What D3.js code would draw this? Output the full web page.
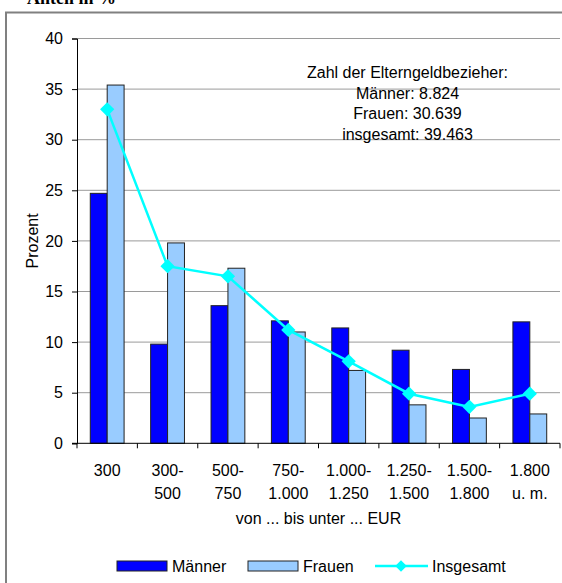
<!DOCTYPE html>
<html>
<head>
<meta charset="utf-8">
<script src="https://cdn.jsdelivr.net/npm/d3@7"></script>
<style>
    body { margin: 0; background: #fff; }
    svg { display: block; }
</style>
</head>
<body>
<svg id="chart" width="562" height="583"></svg>
<script>
const categories = ['300', '300-|500', '500-|750', '750-|1.000', '1.000-|1.250', '1.250-|1.500', '1.500-|1.800', '1.800|u. m.'];
const maenner = [24.7, 9.8, 13.6, 12.1, 11.4, 9.2, 7.3, 12.0];
const frauen = [35.4, 19.8, 17.3, 11.0, 7.2, 3.8, 2.5, 2.9];
const insgesamt = [33.0, 17.5, 16.5, 11.2, 8.1, 4.9, 3.6, 4.9];
const yTicks = [0, 5, 10, 15, 20, 25, 30, 35, 40];
const infoLines = ['Zahl der Elterngeldbezieher:', 'Männer: 8.824', 'Frauen: 30.639', 'insgesamt: 39.463'];

const font = "Arial, 'Liberation Sans', sans-serif";
const fontSize = '16px';
const plot = { left: 77, right: 560, top: 38.5, bottom: 443.3 };

const svg = d3.select('#chart');

// outer frame, cut off at right and bottom like the original
svg.append('rect')
    .attr('x', 6)
    .attr('y', 12.5)
    .attr('width', 600)
    .attr('height', 600)
    .attr('fill', '#fff')
    .attr('stroke', '#808080')
    .attr('stroke-width', 2);

svg.append('text')
    .attr('x', 27)
    .attr('y', 4)
    .style('font-family', "'Liberation Serif', 'Times New Roman', serif")
    .style('font-size', '18px')
    .style('font-weight', 'bold')
    .text('Anteil in %');

const xScale = d3.scaleBand()
    .domain(categories)
    .range([plot.left, plot.right])
    .paddingInner(0.44)
    .paddingOuter(0.22);

const yScale = d3.scaleLinear()
    .domain([0, 40])
    .range([plot.bottom, plot.top]);

// grid lines
svg.append('g')
    .selectAll('line')
    .data(yTicks.filter(d => d != 0))
    .join('line')
    .attr('x1', plot.left)
    .attr('x2', plot.right)
    .attr('y1', d => yScale(d))
    .attr('y2', d => yScale(d))
    .attr('stroke', '#9a9a9a')
    .attr('stroke-width', 1);

// bars
const bw = xScale.bandwidth() / 2;
const series = [
    { values: maenner, color: '#0000ff', offset: 0 },
    { values: frauen, color: '#99ccff', offset: 1 }
];
series.forEach(s => {
    svg.append('g')
        .selectAll('rect')
        .data(s.values)
        .join('rect')
        .attr('x', (d, i) => xScale(categories[i]) + s.offset * bw)
        .attr('y', d => yScale(d))
        .attr('width', bw)
        .attr('height', d => yScale(0) - yScale(d))
        .attr('fill', s.color)
        .attr('stroke', '#222')
        .attr('stroke-width', 1);
});

// line series
const cx = (d, i) => xScale(categories[i]) + xScale.bandwidth() / 2;
const line = d3.line()
    .x(cx)
    .y(d => yScale(d));

svg.append('path')
    .datum(insgesamt)
    .attr('d', line)
    .attr('fill', 'none')
    .attr('stroke', '#00ffff')
    .attr('stroke-width', 2.5);

const diamond = d3.symbol().type(d3.symbolDiamond2).size(130);
svg.append('g')
    .selectAll('path')
    .data(insgesamt)
    .join('path')
    .attr('d', diamond)
    .attr('transform', (d, i) => `translate(${cx(d, i)},${yScale(d)})`)
    .attr('fill', '#00ffff');

// y axis
const yAxis = svg.append('g')
    .attr('id', 'y-axis')
    .attr('transform', `translate(${plot.left},0)`)
    .call(d3.axisLeft(yScale).tickValues(yTicks).tickSize(5).tickPadding(9));
yAxis.select('.domain').attr('stroke', '#000');
yAxis.selectAll('text')
    .style('font-family', font)
    .style('font-size', fontSize)
    .attr('fill', '#000');

// x axis
const xEdges = d3.range(categories.length + 1).map(i => plot.left + i * (plot.right - plot.left) / categories.length);
svg.append('line')
    .attr('x1', plot.left - 5)
    .attr('x2', plot.right)
    .attr('y1', plot.bottom)
    .attr('y2', plot.bottom)
    .attr('stroke', '#000');
svg.append('g')
    .selectAll('line')
    .data(xEdges)
    .join('line')
    .attr('x1', d => d)
    .attr('x2', d => d)
    .attr('y1', plot.bottom)
    .attr('y2', plot.bottom + 5)
    .attr('stroke', '#000');

const xLabels = svg.append('g')
    .selectAll('text')
    .data(categories)
    .join('text')
    .attr('text-anchor', 'middle')
    .style('font-family', font)
    .style('font-size', fontSize)
    .attr('fill', '#000');
xLabels.selectAll('tspan')
    .data(d => d.split('|').map(t => ({ t: t, c: d })))
    .join('tspan')
    .attr('x', d => xScale(d.c) + xScale.bandwidth() / 2)
    .attr('y', (d, i) => 476 + i * 23)
    .text(d => d.t);

svg.append('text')
    .attr('x', (plot.left + plot.right) / 2)
    .attr('y', 523.5)
    .attr('text-anchor', 'middle')
    .style('font-family', font)
    .style('font-size', fontSize)
    .text('von ... bis unter ... EUR');

svg.append('text')
    .attr('transform', `translate(38,${(plot.top + plot.bottom) / 2}) rotate(-90)`)
    .attr('text-anchor', 'middle')
    .style('font-family', font)
    .style('font-size', fontSize)
    .text('Prozent');

// info text
svg.append('g')
    .selectAll('text')
    .data(infoLines)
    .join('text')
    .attr('x', 407.5)
    .attr('y', (d, i) => 78 + i * 20.7)
    .attr('text-anchor', 'middle')
    .style('font-family', font)
    .style('font-size', fontSize)
    .text(d => d);

// legend
const legend = svg.append('g');
const legendItems = [
    { label: 'Männer', color: '#0000ff', x: 117 },
    { label: 'Frauen', color: '#99ccff', x: 248 }
];
legendItems.forEach(l => {
    legend.append('rect')
        .attr('x', l.x)
        .attr('y', 561)
        .attr('width', 50)
        .attr('height', 10)
        .attr('fill', l.color)
        .attr('stroke', '#222');
    legend.append('text')
        .attr('x', l.x + 55)
        .attr('y', 572)
        .style('font-family', font)
        .style('font-size', fontSize)
        .text(l.label);
});
legend.append('line')
    .attr('x1', 375)
    .attr('x2', 428)
    .attr('y1', 566)
    .attr('y2', 566)
    .attr('stroke', '#00ffff')
    .attr('stroke-width', 2.5);
legend.append('path')
    .attr('d', d3.symbol().type(d3.symbolDiamond2).size(85))
    .attr('transform', 'translate(401,566)')
    .attr('fill', '#00ffff');
legend.append('text')
    .attr('x', 432)
    .attr('y', 572)
    .style('font-family', font)
    .style('font-size', fontSize)
    .text('Insgesamt');
</script>
</body>
</html>
